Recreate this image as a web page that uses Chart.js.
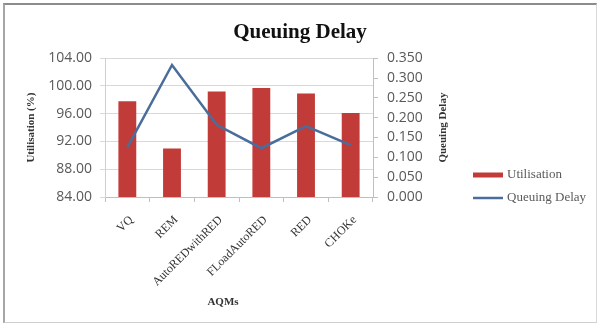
<!DOCTYPE html>
<html>
<head>
<meta charset="utf-8">
<script src="https://cdn.jsdelivr.net/npm/chart.js@4.4.1/dist/chart.umd.min.js"></script>
<style>
  html, body { margin: 0; padding: 0; background: #fff; }
  #wrap { position: relative; width: 600px; height: 324px; }
  #frame {
    position: absolute; left: 3px; top: 3px; width: 591px; height: 317px;
    border-top: 2px solid #8c8c8c; border-left: 2px solid #a6a6a6;
    border-right: 1px solid #d9d9d9; border-bottom: 1px solid #cfcfcf;
    pointer-events: none;
  }
</style>
</head>
<body>
<div id="wrap">
  <canvas id="delayChart" width="600" height="324"></canvas>
  <div id="frame"></div>
</div>
<script>
// --- data ---
const aqms = ['VQ', 'REM', 'AutoREDwithRED', 'FLoadAutoRED', 'RED', 'CHOKe'];
const utilisation = [97.8, 91.0, 99.2, 99.7, 98.9, 96.1];
const queuingDelay = [0.125, 0.333, 0.182, 0.123, 0.179, 0.131];
const leftTicks = [84, 88, 92, 96, 100, 104];
const rightTicks = [0, 0.05, 0.1, 0.15, 0.2, 0.25, 0.3, 0.35];

const serif = '"Liberation Serif", "DejaVu Serif", serif';
const sans = '"Open Sans", "Liberation Sans", sans-serif';
const redBar = '#c13b38';
const blueLine = '#4a6d9c';

// titles / legend that Chart.js can't place where Excel put them
const extraText = {
    id: 'extraText',
    afterDraw(chart) {
        const c = chart.ctx;
        const a = chart.chartArea;
        c.save();
        c.fillStyle = '#333';
        c.font = 'bold 11px ' + serif;
        c.textAlign = 'center';
        c.textBaseline = 'middle';
        // right axis title, reads bottom to top like the left one
        c.save();
        c.translate(a.right + 70, (a.top + a.bottom) / 2);
        c.rotate(-Math.PI / 2);
        c.fillText('Queuing Delay', 0, 0);
        c.restore();
        // x axis title
        c.fillText('AQMs', (a.left + a.right) / 2 - 16, 302);

        // legend
        const ds = chart.data.datasets;
        const ys = [175, 198];
        c.font = '13px ' + serif;
        c.textAlign = 'left';
        c.fillStyle = '#595959';
        ds.forEach((d, i) => {
            c.beginPath();
            c.strokeStyle = d.type === 'bar' ? d.backgroundColor : d.borderColor;
            c.lineWidth = d.type === 'bar' ? 5 : 2.5;
            c.moveTo(473, ys[i]);
            c.lineTo(503, ys[i]);
            c.stroke();
            c.fillText(d.label, 507, ys[i]);
        });
        c.restore();
    }
};

new Chart(document.getElementById('delayChart'), {
    data: {
        labels: aqms,
        datasets: [{
            type: 'bar',
            label: 'Utilisation',
            data: utilisation,
            backgroundColor: redBar,
            categoryPercentage: 1,
            barPercentage: 0.4,
            yAxisID: 'y',
            order: 2
        }, {
            type: 'line',
            label: 'Queuing Delay',
            data: queuingDelay,
            borderColor: blueLine,
            borderWidth: 2.5,
            pointRadius: 0,
            tension: 0,
            yAxisID: 'y2',
            order: 1
        }]
    },
    plugins: [extraText],
    options: {
        responsive: false,
        animation: false,
        devicePixelRatio: 1,
        layout: { padding: 0 },
        plugins: {
            legend: { display: false },
            tooltip: { enabled: false },
            title: {
                display: true,
                text: 'Queuing Delay',
                color: '#111',
                font: { family: serif, size: 21, weight: 'bold', lineHeight: 1.2 },
                padding: { top: 20, bottom: 13 }
            }
        },
        scales: {
            x: {
                afterFit(s) { s.height = 127; },
                grid: { drawOnChartArea: false, tickLength: 5, color: '#bfbfbf' },
                border: { color: '#bfbfbf' },
                ticks: {
                    minRotation: 45, maxRotation: 45, padding: 11, labelOffset: 4,
                    color: '#333', font: { family: serif, size: 12 }
                }
            },
            y: {
                position: 'left',
                min: 84, max: 104,
                afterFit(s) { s.width = 105; },
                afterBuildTicks(s) { s.ticks = leftTicks.map(v => ({ value: v })); },
                grid: { color: '#d9d9d9', tickLength: 5 },
                border: { color: '#d0d0d0' },
                ticks: {
                    padding: 8, color: '#595959',
                    font: { family: sans, size: 14 },
                    callback: v => v.toFixed(2)
                },
                title: {
                    display: true, text: 'Utilisation (%)', color: '#333',
                    font: { family: serif, size: 11, weight: 'bold' },
                    padding: { top: 25, bottom: 0 }
                }
            },
            y2: {
                position: 'right',
                min: 0, max: 0.35,
                afterFit(s) { s.width = 227; },
                afterBuildTicks(s) { s.ticks = rightTicks.map(v => ({ value: v })); },
                grid: { drawOnChartArea: false, tickLength: 5, color: '#bfbfbf' },
                border: { color: '#bfbfbf' },
                ticks: {
                    padding: 9, color: '#595959',
                    font: { family: sans, size: 14 },
                    callback: v => v.toFixed(3)
                }
            }
        }
    }
});
</script>
</body>
</html>
